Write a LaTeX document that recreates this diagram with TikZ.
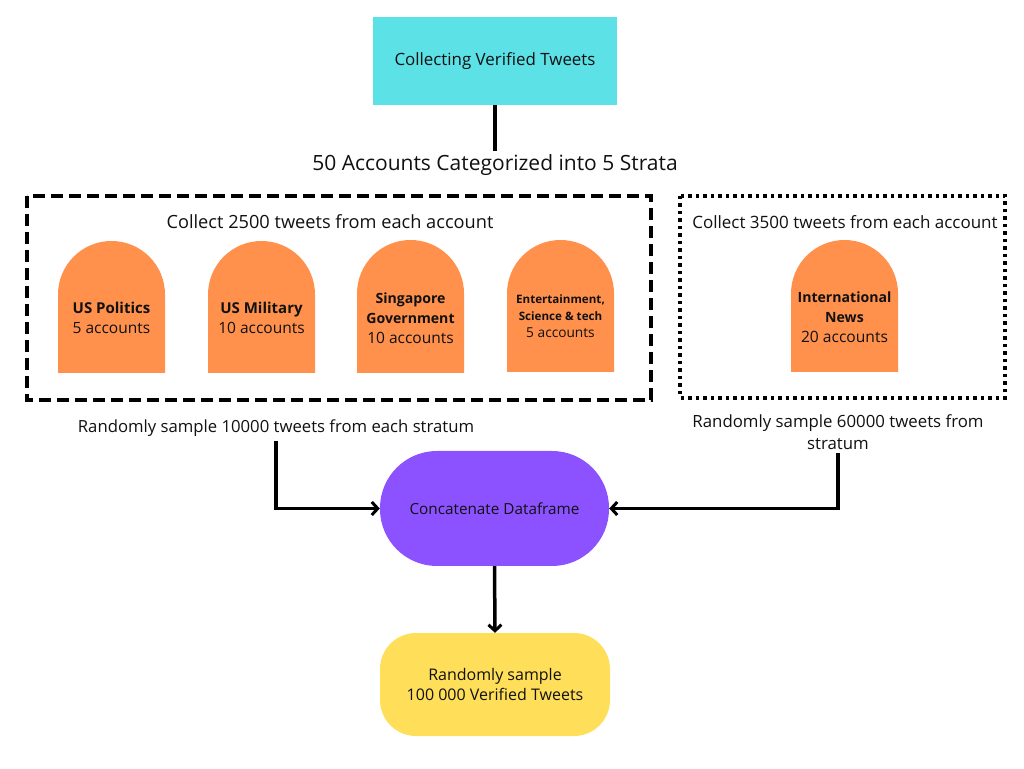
\documentclass[tikz,border=0pt]{standalone}
\usepackage{fontspec}
\setmainfont{Open Sans}
\usetikzlibrary{arrows.meta}
\definecolor{cyanbox}{HTML}{5CE1E6}
\definecolor{orangearch}{HTML}{FF914D}
\definecolor{purplebox}{HTML}{8C52FF}
\definecolor{yellowbox}{HTML}{FFDE59}
\definecolor{ink}{HTML}{111111}
\newcommand{\myarch}[4]{% x1, x2, top, bottom (in y-up coords)
  \fill[orangearch] (#1,#4) -- (#1,{#3-(#2-#1)/2}) arc[start angle=180,end angle=0,radius={(#2-#1)/2}] -- (#2,#4) -- cycle;}
\tikzset{
  txt/.style={text=ink, align=center, inner sep=0pt},
  conn/.style={line width=3.5pt, draw=black},
  arr/.style={conn, -{Straight Barb[length=6pt,width=13pt,line width=3pt]}},
  archtxt/.style={txt, font=\fontsize{15.5}{20}\selectfont},
}
\newcommand{\bt}[2]{{\fontsize{#1}{20}\selectfont\textbf{#2}}}
\begin{document}
\begin{tikzpicture}[x=1pt,y=1pt]
\useasboundingbox[fill=white] (0,0) rectangle (1024,768);

% top box
\node[fill=cyanbox, minimum width=244pt, minimum height=88pt, inner sep=0pt, txt, font=\fontsize{16.9}{20}\selectfont] (collect) at (495,707) {Collecting Verified Tweets};
\node[txt, font=\fontsize{21}{24}\selectfont] (strata) at (495,603) {50 Accounts Categorized into 5 Strata};
\draw[conn] (collect.south) -- ([yshift=3pt]strata.north);

% dashed group box
\draw[line width=4pt, dash pattern=on 12pt off 6pt] (27,572) rectangle (651,368);
\node[txt, font=\fontsize{18.2}{21}\selectfont] (col1) at (330,546) {Collect 2500 tweets from each account};

% dotted group box
\draw[line width=3.5pt, dash pattern=on 3.5pt off 4pt] (680,572) rectangle (1005,370);
\node[txt, font=\fontsize{17}{20}\selectfont] (col2) at (845,546) {Collect 3500 tweets from each account};

% arches
\myarch{58}{165}{527}{395}
\myarch{208}{315}{527}{395}
\myarch{357}{464}{528}{395}
\myarch{507}{614}{528}{396}
\myarch{791}{898}{528}{396}

\node[archtxt] (a1) at (111.5,450) {\bt{15}{US Politics}\\5 accounts};
\node[archtxt] (a2) at (261.5,450) {\bt{15}{US Military}\\10 accounts};
\node[archtxt] (a3) at (410.5,450) {\bt{14.1}{Singapore}\\\bt{14.1}{Government}\\10 accounts};
\node[txt, font=\fontsize{13.7}{17}\selectfont] (a4) at (560.5,451.5) {{\fontsize{11.6}{17}\selectfont\textbf{Entertainment,}}\\{\fontsize{11.6}{17}\selectfont\textbf{Science \& tech}}\\5 accounts};
\node[txt, font=\fontsize{15.6}{20}\selectfont] (a5) at (844.5,451) {\bt{14.1}{International}\\\bt{14.1}{News}\\20 accounts};

% sampling texts
\node[txt, font=\fontsize{16.7}{19}\selectfont] (samp1) at (276,340) {Randomly sample 10000 tweets from each stratum};
\node[txt, font=\fontsize{16.8}{22}\selectfont] (samp2) at (838,336) {Randomly sample 60000 tweets from\\stratum};

% concatenate
\node[fill=purplebox, minimum width=229pt, minimum height=115pt, rounded corners=57pt, inner sep=0pt, txt, font=\fontsize{15.3}{18}\selectfont] (concat) at (494.5,259.5) {Concatenate Dataframe};

% final
\node[fill=yellowbox, minimum width=230pt, minimum height=103pt, rounded corners=36pt, inner sep=0pt, txt, font=\fontsize{16}{20}\selectfont] (final) at (495,83.5) {Randomly sample\\100 000 Verified Tweets};

% connectors
\draw[arr] ([yshift=-4pt]samp1.south) |- (concat.west);
\draw[arr] ([yshift=-3pt]samp2.south) |- (concat.east);
\draw[arr] (concat.south) -- (final.north);
\end{tikzpicture}
\end{document}
